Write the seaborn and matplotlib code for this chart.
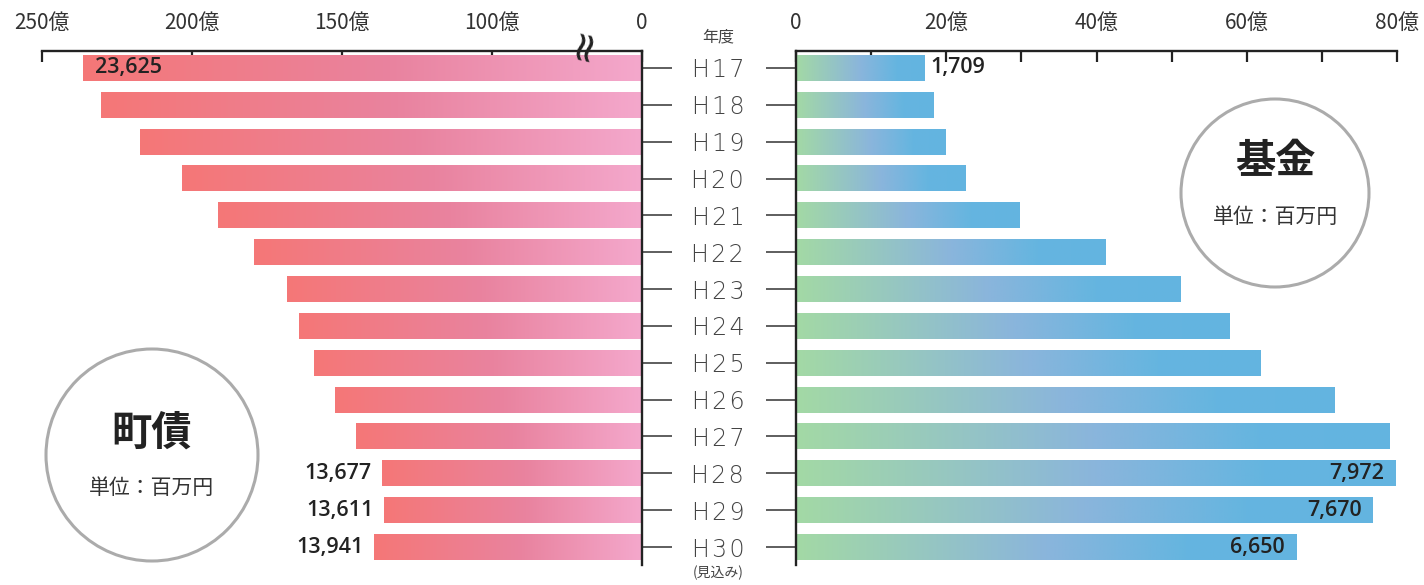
import numpy as np
import pandas as pd
import matplotlib
matplotlib.use("Agg")
import matplotlib.pyplot as plt
import seaborn as sns
from matplotlib.colors import LinearSegmentedColormap
from matplotlib.patches import Circle

# ---------------- data ----------------
years = ["H17", "H18", "H19", "H20", "H21", "H22", "H23",
         "H24", "H25", "H26", "H27", "H28", "H29", "H30"]
debt_million = [23625, 23025, 21725, 20325, 19125, 17925, 16825,
                16425, 15925, 15225, 14525, 13677, 13611, 13941]
fund_million = [1709, 1828, 1988, 2254, 2972, 4116, 5113,
                5765, 6177, 7161, 7892, 7972, 7670, 6650]
debt_labeled = [0, 11, 12, 13]
fund_labeled = [0, 11, 12, 13]
left_tick_oku = [250, 200, 150, 100, 0]
right_tick_oku = [0, 10, 20, 30, 40, 50, 60, 70, 80]
right_tick_text = ["0", "", "20億", "", "40億", "", "60億", "", "80億"]
BREAK = 50  # 億 removed by the axis break on the left panel

sns.set_theme(style="white")
plt.rcParams["font.family"] = ["Noto Sans CJK JP", "DejaVu Sans"]

W, H = 1424, 585
fig = plt.figure(figsize=(W / 100, H / 100), dpi=100)


def fx(px):
    return px / W


def fy(py):
    return 1 - py / H


top, bot = 51, 565
axL = fig.add_axes([fx(41.75), fy(bot), fx(642) - fx(41.75), (bot - top) / H])
axR = fig.add_axes([fx(795.8), fy(bot), fx(1397.4) - fx(795.8), (bot - top) / H])

dfL = pd.DataFrame({"year": years, "val": np.array(debt_million) / 100 - BREAK})
dfR = pd.DataFrame({"year": years, "val": np.array(fund_million) / 100})

sns.barplot(data=dfL, x="val", y="year", orient="h", ax=axL, width=0.7,
            color="#EE8399", saturation=1)
sns.barplot(data=dfR, x="val", y="year", orient="h", ax=axR, width=0.7,
            color="#7FBAD8", saturation=1)

cmapL = LinearSegmentedColormap.from_list(
    "debt", [(0, "#F4A8CC"), (0.45, "#E9839F"), (1, "#F57777")])
cmapR = LinearSegmentedColormap.from_list(
    "fund", [(0, "#A3D9A5"), (0.5, "#8AB5DC"), (0.78, "#65B5E0"), (1, "#63B4E0")])


def gradient_bars(ax, cmap):
    grad = np.linspace(0, 1, 256).reshape(1, -1)
    for p in list(ax.patches):
        x, y, w, h = p.get_x(), p.get_y(), p.get_width(), p.get_height()
        ax.imshow(grad, cmap=cmap, aspect="auto", extent=[x, x + w, y + h, y],
                  interpolation="bilinear", zorder=2)
        p.set_facecolor("none")
        p.set_edgecolor("none")


gradient_bars(axL, cmapL)
gradient_bars(axR, cmapR)

ylim = (13.488, -0.461)
axL.set_xlim(200, 0)
axR.set_xlim(0, 80)
for ax in (axL, axR):
    ax.set_ylim(*ylim)
    ax.set_xlabel("")
    ax.set_ylabel("")
    ax.set_facecolor("none")

# spines
for s in ("left", "bottom"):
    axL.spines[s].set_visible(False)
for s in ("right", "bottom"):
    axR.spines[s].set_visible(False)
for ax, sides in ((axL, ("top", "right")), (axR, ("top", "left"))):
    for s in sides:
        ax.spines[s].set_visible(True)
        ax.spines[s].set_color("#222222")
        ax.spines[s].set_linewidth(1.7)
        ax.spines[s].set_zorder(3)

# x ticks on top
left_pos = [v - BREAK if v > 0 else 0 for v in left_tick_oku]
left_txt = [f"{v}億" if v > 0 else "0" for v in left_tick_oku]
axL.xaxis.tick_top()
axL.set_xticks(left_pos, left_txt)
axR.xaxis.tick_top()
axR.set_xticks(right_tick_oku, right_tick_text)
for ax in (axL, axR):
    ax.tick_params(axis="x", direction="in", length=8, width=1.6, color="#222222",
                   pad=12, labelsize=15, labelcolor="#333333", top=True, bottom=False)

# y ticks (year labels, letter-spaced)
spaced = ["\u200a".join(list(y)) for y in years]
axL.set_yticks(range(len(years)), spaced)
axL.yaxis.tick_right()
axL.tick_params(axis="y", direction="out", length=21.6, width=1.1, color="#333333",
                pad=33, labelsize=17, labelcolor="#444444", right=True, left=False,
                labelright=True, labelleft=False)
for t in axL.get_yticklabels():
    t.set_ha("center")
    t.set_family(["DejaVu Sans"])
    t.set_fontweight("light")
axR.set_yticks(range(len(years)))
axR.yaxis.tick_left()
axR.tick_params(axis="y", direction="out", length=21.6, width=1.1, color="#333333",
                left=True, right=False, labelleft=False, labelright=False)

# value labels
lab_kw = dict(fontsize=15.5, fontweight="semibold", color="#222222", va="center",
              textcoords="offset points", family=["Open Sans", "DejaVu Sans"], zorder=4)
for i in debt_labeled:
    txt = f"{debt_million[i]:,}"
    v = dfL["val"][i]
    if i == 0:
        axL.annotate(txt, (v, i), xytext=(8.6, 0), ha="left", **lab_kw)
    else:
        axL.annotate(txt, (v, i), xytext=(-7, 0), ha="right", **lab_kw)
for i in fund_labeled:
    txt = f"{fund_million[i]:,}"
    v = dfR["val"][i]
    if i == 0:
        axR.annotate(txt, (v, i), xytext=(4.5, 0), ha="left", **lab_kw)
    else:
        axR.annotate(txt, (v, i), xytext=(-8, 0), ha="right", **lab_kw)

# overlay for circles and free text
ov = fig.add_axes([0, 0, 1, 1], zorder=5)
ov.set_xlim(0, W)
ov.set_ylim(H, 0)
ov.axis("off")

ov.add_patch(Circle((152, 455), 106, fill=False, ec="#ABABAB", lw=2.2))
ov.add_patch(Circle((1275, 193), 94, fill=False, ec="#ABABAB", lw=2.2))
ov.text(152, 433, "町債", ha="center", va="center", fontsize=29, fontweight="bold", color="#222222")
ov.text(152, 488, "単位：百万円", ha="center", va="center", fontsize=15, color="#333333")
ov.text(1275, 162, "基金", ha="center", va="center", fontsize=29, fontweight="bold", color="#222222")
ov.text(1275, 217, "単位：百万円", ha="center", va="center", fontsize=15, color="#333333")
ov.text(718, 37, "年度", ha="center", va="center", fontsize=11.5, color="#444444")
ov.text(718, 573, "(見込み)", ha="center", va="center", fontsize=10, color="#444444")
ov.text(584, 44, "≈", ha="center", va="center", fontsize=30, rotation=78, color="#222222",
        family=["DejaVu Sans"])

fig.savefig("out.png", dpi=100, facecolor="white")
